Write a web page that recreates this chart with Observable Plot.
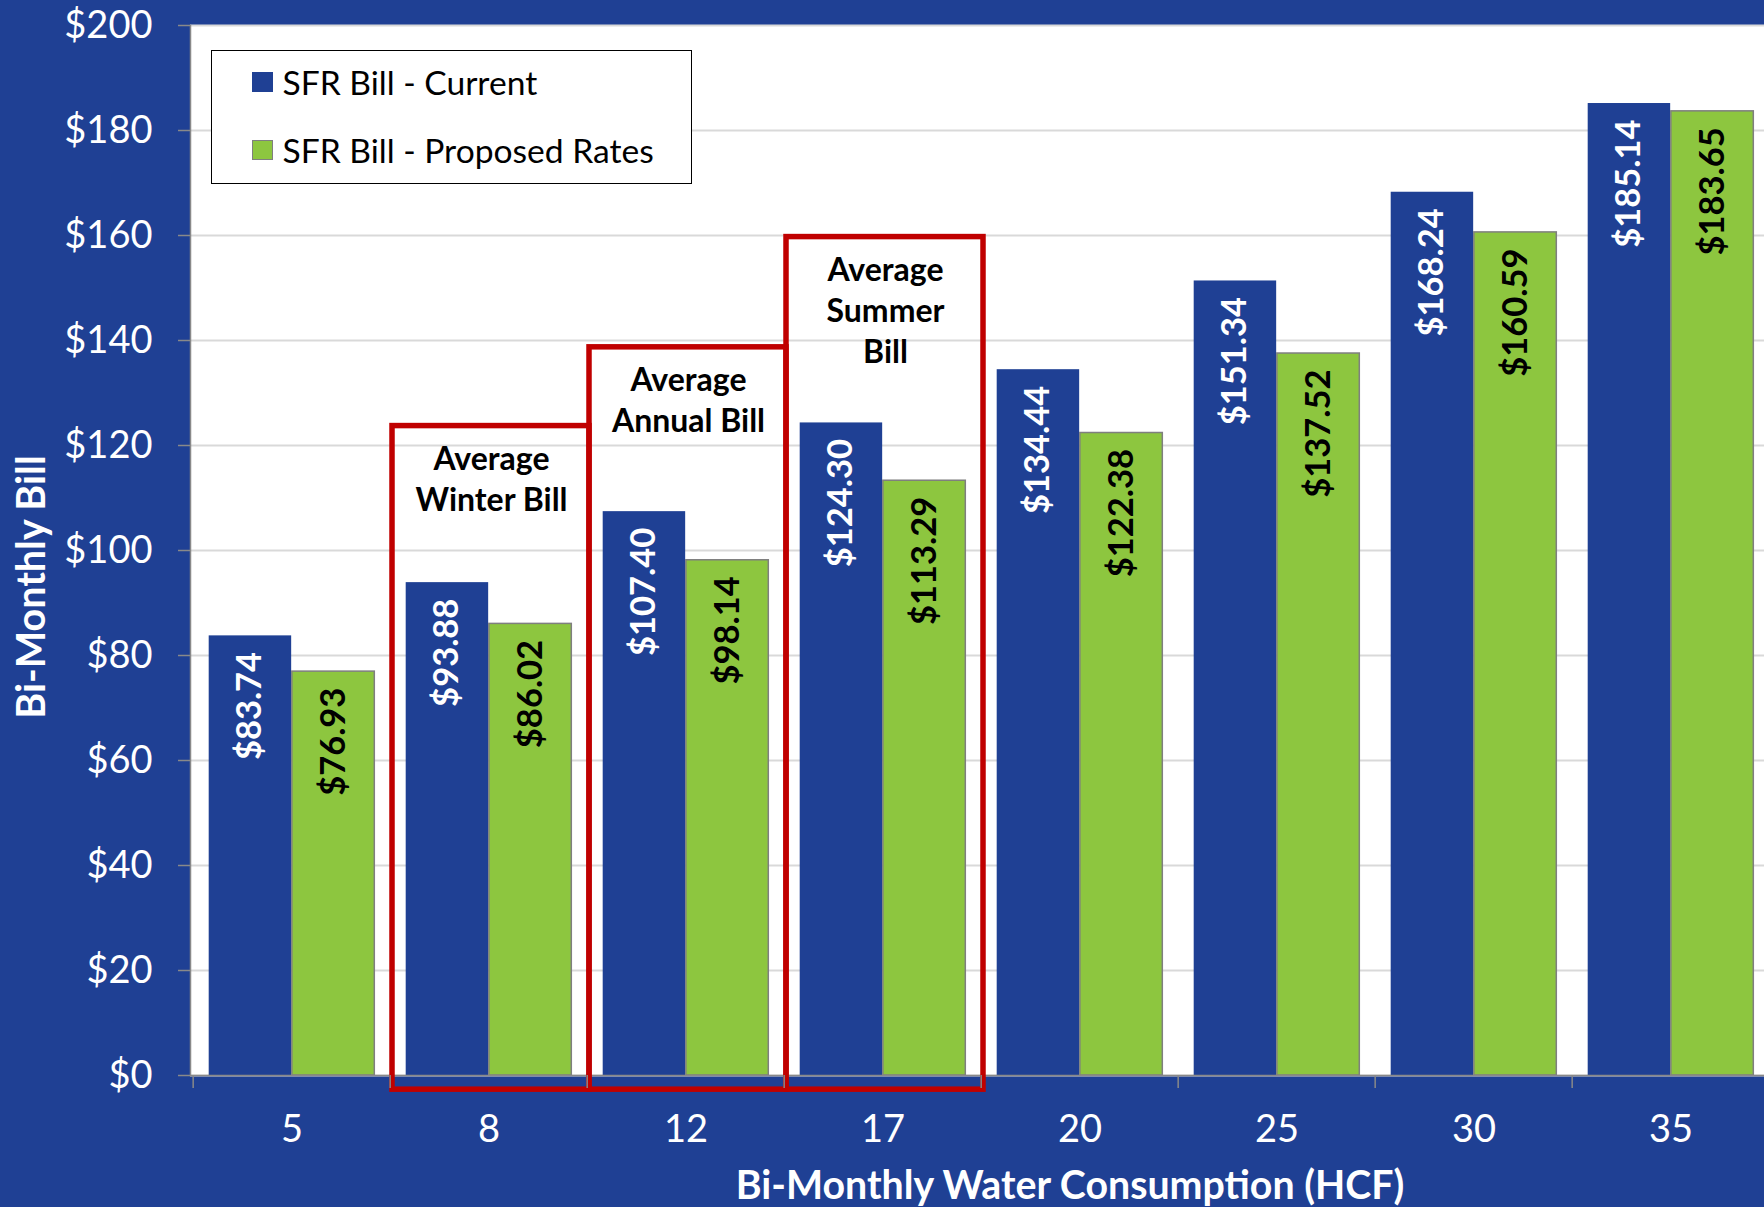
<!DOCTYPE html>
<html>
<head>
<meta charset="utf-8">
<script src="https://cdn.jsdelivr.net/npm/d3@7"></script>
<script src="https://cdn.jsdelivr.net/npm/@observablehq/plot@0.6"></script>
<style>
  html, body { margin: 0; padding: 0; background: #1F4094; overflow: hidden; }
  #wrap { position: relative; width: 1764px; height: 1207px; overflow: hidden; font-family: Lato, "Noto Sans", sans-serif; }
  #chart { position: absolute; left: 0; top: 0; width: 1772px; height: 1207px; }
  #chart svg { max-width: none !important; width: 1772px; height: 1207px; }
  #legend { position: absolute; left: 211px; top: 50px; width: 481px; height: 134px; box-sizing: border-box;
            background: #fff; border: 1.5px solid #000; }
  .lg-row { position: absolute; left: 40px; height: 40px; display: flex; align-items: center; font-size: 33.6px; color: #000; white-space: nowrap; }
  .lg-sw { width: 20.5px; height: 20.5px; box-sizing: border-box; margin-right: 10px; }
  .ytitle { position: absolute; left: 29px; top: 587px; transform: translate(-50%, -50%) rotate(-90deg);
            color: #fff; font-weight: bold; font-size: 39.5px; white-space: nowrap; }
  .xtitle { position: absolute; left: 1070px; top: 1183px; transform: translate(-50%, -50%);
            color: #fff; font-weight: bold; font-size: 39.3px; white-space: nowrap; }
</style>
</head>
<body>
<div id="wrap">
  <div id="chart"></div>
  <div id="legend"></div>
  <div class="ytitle">Bi-Monthly Bill</div>
  <div class="xtitle">Bi-Monthly Water Consumption (HCF)</div>
</div>
<script>
// ---- data ----
const hcf = ["5", "8", "12", "17", "20", "25", "30", "35"];
const current = [83.74, 93.88, 107.40, 124.30, 134.44, 151.34, 168.24, 185.14];
const proposed = [76.93, 86.02, 98.14, 113.29, 122.38, 137.52, 160.59, 183.65];
const seriesNames = ["SFR Bill - Current", "SFR Bill - Proposed Rates"];
const yTicks = [0, 20, 40, 60, 80, 100, 120, 140, 160, 180, 200];
const boxHcf = ["8", "12", "17"];
const boxLabel = ["Average\nWinter Bill", "Average\nAnnual Bill", "Average\nSummer\nBill"];
const boxTop = [123.7, 138.7, 159.7];
const boxBottom = -2.7;

// ---- style ----
const BLUE = "#1F4094", GREEN = "#8DC63F", RED = "#C00000", GRAY = "#898989", GRID = "#D9D9D9";
// the chart runs slightly past the right edge of the 1764px picture (cropped there)
const W = 1772, H = 1207, ML = 190, MR = 0.7, MT = 25, MB = 132;
const step = (W - ML - MR) / hcf.length;
const pad = step * 0.0794;
const bw = (step - 2 * pad) / 2;

const data = hcf.map((h, i) => ({hcf: h, current: current[i], proposed: proposed[i]}));
const boxes = boxHcf.map((h, i) => ({hcf: h, top: boxTop[i], label: boxLabel[i]}));
const fmt = v => "$" + v.toFixed(2);

const chart = Plot.plot({
  width: W, height: H,
  marginLeft: ML, marginRight: MR, marginTop: MT, marginBottom: MB,
  style: {background: "transparent", fontFamily: "Lato, 'Noto Sans', sans-serif", overflow: "visible", maxWidth: "none"},
  x: {domain: hcf, padding: 0, axis: null},
  y: {domain: [0, 200], axis: null},
  marks: [
    Plot.frame({fill: "white", stroke: null}),
    Plot.gridY(yTicks, {stroke: GRID, strokeOpacity: 1, strokeWidth: 2}),
    Plot.barY(data, {x: "hcf", y: "current", fill: BLUE, insetLeft: pad, insetRight: pad + bw}),
    Plot.barY(data, {x: "hcf", y: "proposed", fill: GREEN, stroke: "#7F7F7F", strokeWidth: 1.5, insetLeft: pad + bw, insetRight: pad}),
    Plot.text(data, {x: "hcf", y: "current", text: d => fmt(d.current), rotate: -90, textAnchor: "end",
      dx: -bw / 2, dy: 16, fill: "white", fontWeight: "bold", fontSize: 34.5}),
    Plot.text(data, {x: "hcf", y: "proposed", text: d => fmt(d.proposed), rotate: -90, textAnchor: "end",
      dx: bw / 2, dy: 16, fill: "black", fontWeight: "bold", fontSize: 34.5}),
    Plot.ruleY([0], {stroke: GRAY, strokeWidth: 1.5}),
    Plot.frame({anchor: "left", stroke: GRAY, strokeWidth: 1.5}),
    Plot.barY(boxes, {x: "hcf", y1: boxBottom, y2: "top", dx: 2, fill: "none", stroke: RED, strokeWidth: 5.5}),
    Plot.text(boxes, {x: "hcf", y: "top", text: "label", lineAnchor: "top", dy: 15, dx: 2.5,
      fontWeight: "bold", fontSize: 32, lineHeight: 1.28, fill: "black"}),
    Plot.axisY({ticks: yTicks, tickFormat: d => "$" + d, tickSize: 12, tickPadding: 26,
      fontSize: 38, fill: "white", stroke: GRAY, strokeWidth: 1.5, label: null}),
    Plot.axisX({tickSize: 0, tickPadding: 40, fontSize: 38, fill: "white", label: null}),
    Plot.axisX({tickSize: 13, tickFormat: () => "", dx: -step / 2, stroke: GRAY, strokeWidth: 1.5, label: null})
  ]
});
document.getElementById("chart").appendChild(chart);

// ---- legend ----
const legend = document.getElementById("legend");
const swatchStyles = [
  {fill: BLUE, border: "none"},
  {fill: GREEN, border: "1.5px solid #7F7F7F"}
];
const rowTops = [11, 79];
seriesNames.forEach((name, i) => {
  const row = document.createElement("div");
  row.className = "lg-row";
  row.style.top = rowTops[i] + "px";
  const sw = document.createElement("div");
  sw.className = "lg-sw";
  sw.style.background = swatchStyles[i].fill;
  sw.style.border = swatchStyles[i].border;
  const t = document.createElement("span");
  t.textContent = name;
  row.appendChild(sw);
  row.appendChild(t);
  legend.appendChild(row);
});
</script>
</body>
</html>
